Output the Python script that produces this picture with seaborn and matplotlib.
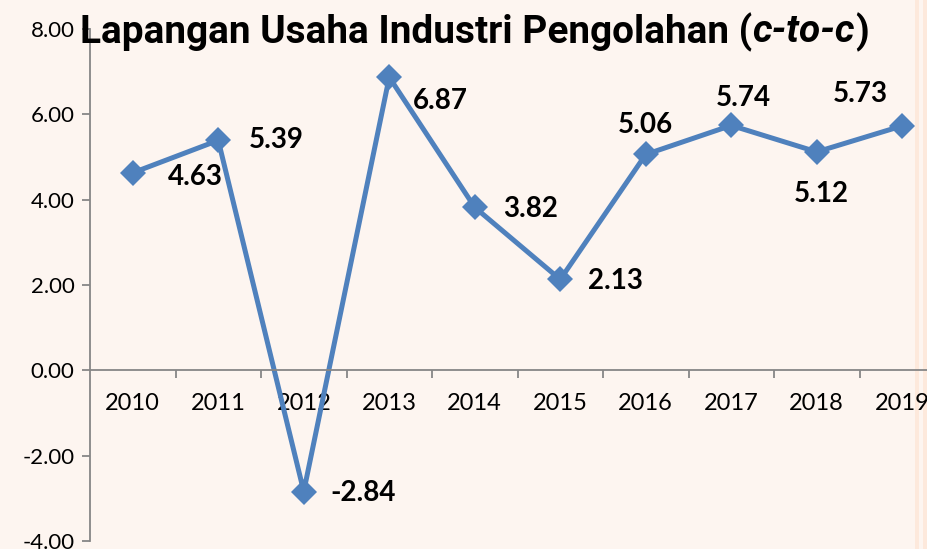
import matplotlib
matplotlib.use("Agg")
import matplotlib.pyplot as plt
import seaborn as sns
import pandas as pd
from matplotlib.patches import Rectangle
from matplotlib.ticker import FixedLocator, NullFormatter, FuncFormatter

years = ["2010", "2011", "2012", "2013", "2014", "2015", "2016", "2017", "2018", "2019"]
growth = [4.63, 5.39, -2.84, 6.87, 3.82, 2.13, 5.06, 5.74, 5.12, 5.73]
y_ticks = [-4, -2, 0, 2, 4, 6, 8]
title = "Lapangan Usaha Industri Pengolahan ("
title_italic = "c-to-c"

# label offsets in points (dx, dy)
label_offsets = [(45, -3), (42, 0), (43, -1), (37, -17), (40, -1), (40, -1),
                 (0, 21), (9, 20), (3, -30), (-30, 23)]

sns.set_theme(style="white")
plt.rcParams["font.family"] = ["Lato", "DejaVu Sans"]

bg = "#FDF5F0"
blue = "#4F81BD"
axis_col = "#868686"

fig = plt.figure(figsize=(9.28, 5.49), dpi=100, facecolor=bg)
W, H = 928, 549
left_px, right_px = 90, 945
top_px, bot_px = 29, 541
ax = fig.add_axes([left_px / W, (H - bot_px) / H, (right_px - left_px) / W, (bot_px - top_px) / H])
ax.patch.set_alpha(0)

df = pd.DataFrame({"x": range(len(years)), "growth": growth})
sns.lineplot(data=df, x="x", y="growth", ax=ax, color=blue, linewidth=3.6,
             marker="D", markersize=13, markeredgecolor=blue, markeredgewidth=0)

ax.set_xlim(-0.5, len(years) - 0.5)
ax.set_ylim(-4, 8)
ax.set_xlabel("")
ax.set_ylabel("")

for s in ["top", "right"]:
    ax.spines[s].set_visible(False)
ax.spines["bottom"].set_position(("data", 0))
for s in ["left", "bottom"]:
    ax.spines[s].set_color(axis_col)
    ax.spines[s].set_linewidth(1.3)

ax.yaxis.set_major_locator(FixedLocator(y_ticks))
ax.yaxis.set_major_formatter(FuncFormatter(lambda v, p: f"{v:.2f}"))
ax.tick_params(axis="y", which="major", direction="out", length=6, width=1.3,
               color=axis_col, labelsize=16, labelcolor="black", pad=5, left=True)

ax.xaxis.set_major_locator(FixedLocator([i - 0.5 for i in range(1, len(years))]))
ax.xaxis.set_major_formatter(NullFormatter())
ax.xaxis.set_minor_locator(FixedLocator(list(range(len(years)))))
ax.xaxis.set_minor_formatter(FuncFormatter(lambda v, p: years[int(round(v))]))
ax.tick_params(axis="x", which="major", direction="out", length=6, width=1.3,
               color=axis_col, bottom=True)
ax.tick_params(axis="x", which="minor", length=0, labelsize=17, labelcolor="black",
               pad=16, bottom=True)

for i, v in enumerate(growth):
    dx, dy = label_offsets[i]
    ax.annotate(f"{v:.2f}", (i, v), xytext=(dx, dy), textcoords="offset points",
                ha="center", va="center", fontsize=20, fontweight="bold", color="black")

# title, fitted to the reference width
tfam = ["Roboto", "DejaVu Sans"]
t_left, t_right, t_y = 80, 866, 1 - 32 / H
size = 30
t1 = fig.text(t_left / W, t_y, title, fontsize=size, fontweight="bold", fontstretch="condensed",
              family=tfam, ha="left", va="center", color="black")
t2 = fig.text(0, t_y, title_italic, fontsize=size, fontweight="bold", style="italic",
              fontstretch="condensed", family=tfam, ha="left", va="center", color="black")
t3 = fig.text(0, t_y, ")", fontsize=size, fontweight="bold", fontstretch="condensed",
              family=tfam, ha="left", va="center", color="black")
r = fig.canvas.get_renderer()
w_total = sum(t.get_window_extent(r).width for t in (t1, t2, t3))
size = size * (t_right - t_left) / w_total
for t in (t1, t2, t3):
    t.set_fontsize(size)
x = t_left
for t in (t1, t2, t3):
    t.set_x(x / W)
    x += t.get_window_extent(r).width

fig.patches.append(Rectangle((915 / W, 0), 4 / W, 1, transform=fig.transFigure,
                             facecolor="#FDE9DC", edgecolor="none", zorder=-5))
fig.patches.append(Rectangle((923 / W, 0), 5 / W, 1, transform=fig.transFigure,
                             facecolor="#FDE9DC", edgecolor="none", zorder=-5))

fig.savefig("out.png", dpi=100, facecolor=bg)
